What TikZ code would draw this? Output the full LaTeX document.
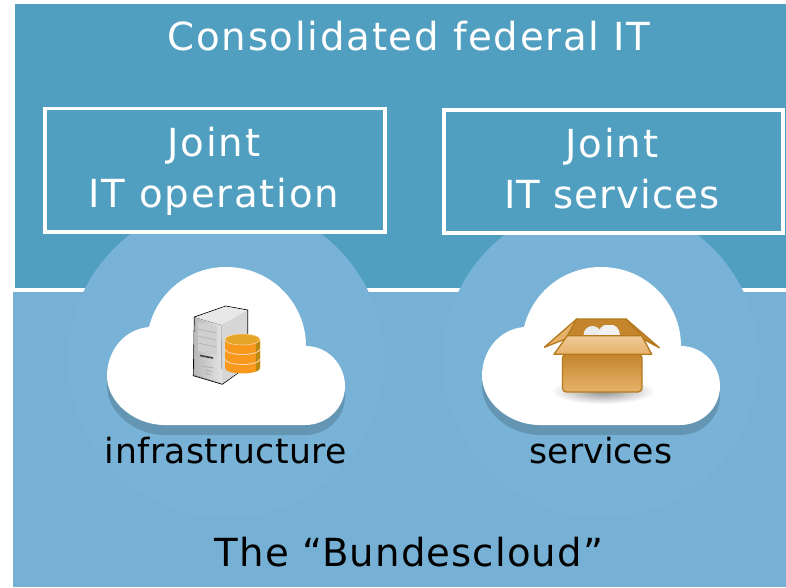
\documentclass[tikz,border=0pt]{standalone}
\usepackage{fontspec}
\setmainfont{DejaVu Sans}
\newfontfamily\widefont{DejaVu Sans}[LetterSpace=4.5]
\newfontfamily\midfont{DejaVu Sans}[LetterSpace=2.8]
\newfontfamily\slimfont{DejaVu Sans}[LetterSpace=1.2]
\definecolor{topblue}{HTML}{519FC0}
\definecolor{lowblue}{HTML}{76B1D5}
\definecolor{halo}{HTML}{78B3D7}
\definecolor{cloudshadow}{HTML}{6496B4}
\definecolor{boxtan}{HTML}{E6B26A}
\definecolor{boxdark}{HTML}{C4852C}
\definecolor{boxline}{HTML}{B57A1E}
\definecolor{dbbody}{HTML}{F8981D}
\definecolor{dbtop}{HTML}{E5A527}
\definecolor{dbside}{HTML}{B88A12}
\tikzset{
  whitetext/.style={text=white,anchor=base,inner sep=0pt,font=\widefont\fontsize{29}{34}\selectfont},
  blacktext/.style={text=black,anchor=base,inner sep=0pt,font=\slimfont\fontsize{26}{30}\selectfont},
  framebox/.style={draw=white,line width=2.6pt,fill=topblue},
}
\newcommand{\cloudshape}{(149,327) .. controls (158,291) and (190,267) .. (226,267) .. controls (272,267) and (306,304) .. (306,346) .. controls (328,346) and (345,365) .. (345,386) .. controls (345,408) and (327,425) .. (305,425) -- (165,425) .. controls (133,425) and (107,401) .. (107,376) .. controls (107,350) and (125,329) .. (149,327) -- cycle}
\begin{document}
\begin{tikzpicture}[x=0.75pt,y=0.75pt,yscale=-1,xscale=1]
\useasboundingbox (0,0) rectangle (786,587);
% backgrounds
\fill [topblue] (15,4) rectangle (786,289);
\fill [white] (15,288) rectangle (786,292.5);
\fill [lowblue] (13,292) rectangle (786,587);
% halos and clouds
\foreach \dx in {0,375} {
  \fill [halo] (226+\dx,360) circle [radius=158];
  \begin{scope}[xshift=\dx*0.75pt]
    \fill [cloudshadow,yshift=7.5pt] \cloudshape;
    \fill [white] \cloudshape;
  \end{scope}
}
\draw [framebox] (45,108.5) rectangle (385,232);
\draw [framebox] (444,110) rectangle (783,233);
% server
\fill [gray!45,draw=black,line width=0.5pt] (194.3,317) -- (225.7,306) -- (247.7,310) -- (247.7,366) -- (222.3,384.3) -- (193.3,375.7) -- cycle;
\fill [gray!32] (221,325) -- (247.2,310.5) -- (247.2,366) -- (222.3,383.5) -- cycle;
\fill [gray!18] (195,317.5) -- (225.7,306.5) -- (247.2,310.5) -- (221,325) -- cycle;
\fill [left color=gray!55,right color=gray!22] (195,317.5) -- (221,325) -- (222,383.5) -- (194,375) -- cycle;
\fill [gray!38] (197.7,322.3) -- (216.7,326.7) -- (216.7,355) -- (198.3,351) -- cycle;
\draw [gray!65,line width=0.4pt] (198,329) -- (216.5,333) (198,336) -- (216.5,340) (198,343) -- (216.5,347);
\draw [black!75,line width=1.2pt] (200,355.5) -- (213,358);
\draw [gray!70,line width=0.5pt] (203,366) -- (213,368) (205,370) -- (212,371.5) (206,373.5) -- (211,374.5);
% database
\fill [dbbody] (225,339.5) -- (225,368) arc [start angle=180,end angle=0,x radius=17.5,y radius=5.5] -- (260,339.5) -- cycle;
\fill [dbside] (256,340) -- (260,339.5) -- (260,368) arc [start angle=0,end angle=40,x radius=17.5,y radius=5.5] -- cycle;
\draw [white!60!dbbody,line width=0.7pt] (225,349) arc [start angle=180,end angle=0,x radius=17.5,y radius=5.5] (225,359) arc [start angle=180,end angle=0,x radius=17.5,y radius=5.5];
\fill [dbtop,draw=white!60!dbbody,line width=0.4pt] (242.5,339.5) circle [x radius=17.5,y radius=5.5];
% carton
\shade [inner color=black!45,outer color=white] (603,391) circle [x radius=52,y radius=13];
\fill [boxtan,draw=boxline,line join=round,line width=1pt] (576.7,319) -- (544.3,347.3) -- (568,338) -- cycle;
\fill [boxdark,draw=boxline,line join=round,line width=1pt] (626,319) -- (659.3,347.7) -- (641,338) -- cycle;
\fill [boxdark,draw=boxline,line width=1pt] (576.7,319) -- (626,319) -- (641.7,336) -- (567.3,336) -- cycle;
\begin{scope}
  \clip (570,325) rectangle (640,336);
  \fill [gray!15] (592.5,335) circle [radius=9];
  \fill [gray!10] (609,335) circle [radius=11];
\end{scope}
\draw [boxline,line width=1pt,rounded corners=3pt,top color=boxdark,bottom color=boxtan] (562.5,354) rectangle (642,392);
\fill [top color=boxtan!70!white,bottom color=boxtan,draw=boxline,line join=round,line width=1pt] (554,354.3) -- (651.7,354.3) -- (641.7,335.7) -- (567.3,335.7) -- cycle;
% labels
\node [whitetext] (title) at (409,50) {Consolidated federal IT};
\node [whitetext] (opjoint) at (214,156) {Joint};
\node [whitetext] (opline) at (214,207) {IT operation};
\node [whitetext] (svjoint) at (612,157) {Joint};
\node [whitetext,font=\midfont\fontsize{29}{34}\selectfont] (svline) at (612,208) {IT services};
\node [blacktext] (infralabel) at (226,463) {infrastructure};
\node [blacktext,font=\rmfamily\fontsize{26}{30}\selectfont] (svlabel) at (601,463) {services};
\node [whitetext,text=black,font=\midfont\fontsize{29}{34}\selectfont] (bundlabel) at (409,566) {The “Bundescloud”};
\end{tikzpicture}
\end{document}
